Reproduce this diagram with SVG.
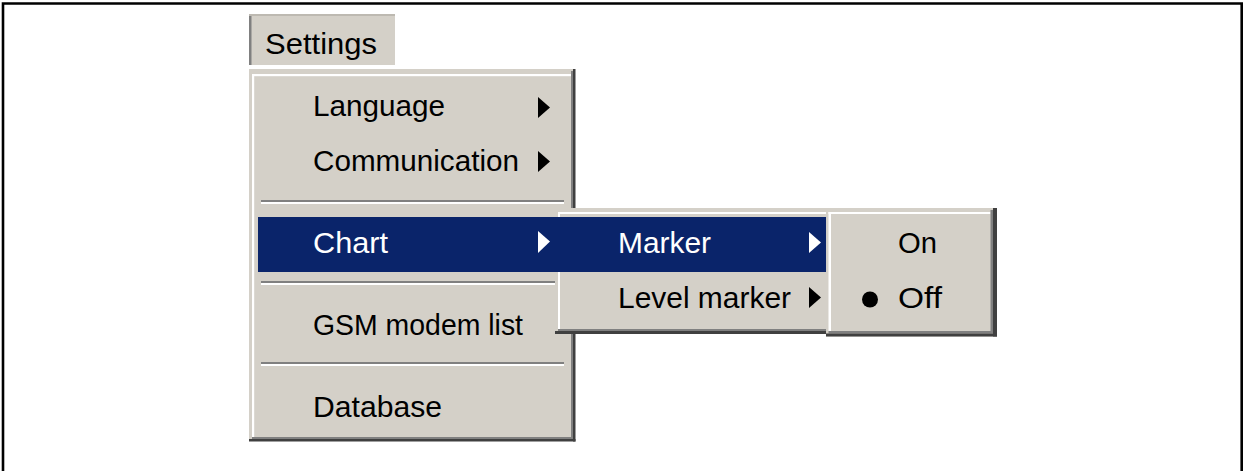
<svg xmlns="http://www.w3.org/2000/svg" width="1243" height="471" viewBox="0 0 1243 471">
<style>
.face{fill:#d4d0c8}
.hi{fill:#ffffff}
.sh{fill:#808080}
.dk{fill:#404040}
.sel{fill:#0a246a}
.t{font-family:"Liberation Sans",Tahoma,Arial,sans-serif;font-size:30px;fill:#000}
.tw{font-family:"Liberation Sans",Tahoma,Arial,sans-serif;font-size:30px;fill:#fff}
.arr{fill:#000}
.arrw{fill:#fff}
</style>
<rect x="0" y="0" width="1243" height="471" fill="#fff"/>
<path d="M3,472 V3.5 H1241.7 V472" fill="none" stroke="#000" stroke-width="2.6"/>

<g id="settings-button">
  <rect class="face" x="249" y="14" width="146" height="51"/>
  <rect x="249" y="14" width="146" height="2" fill="#bdb9b1"/>
  <rect class="sh" x="249" y="16" width="2.5" height="49"/>
  <text class="t" x="265" y="54" textLength="112" lengthAdjust="spacingAndGlyphs">Settings</text>
</g>

<g id="main-menu">
  <rect class="face" x="249" y="69" width="326" height="372"/>
  <rect class="hi" x="252" y="74" width="319" height="2.2"/>
  <rect class="hi" x="252" y="74" width="2.2" height="363"/>
  <rect class="sh" x="571" y="71" width="2" height="368"/>
  <rect class="sh" x="252" y="437" width="321" height="2"/>
  <rect class="dk" x="573" y="69" width="2.5" height="372.5"/>
  <rect class="dk" x="249" y="439" width="326.5" height="2.5"/>
</g>

<g id="item-language">
  <text class="t" x="313" y="116" textLength="132" lengthAdjust="spacingAndGlyphs">Language</text>
  <polygon class="arr" points="538,97 550,107.5 538,118"/>
</g>
<g id="item-communication">
  <text class="t" x="313" y="171" textLength="206" lengthAdjust="spacingAndGlyphs">Communication</text>
  <polygon class="arr" points="538,151 550,161.5 538,172"/>
</g>
<g id="separator-1">
  <rect class="sh" x="261" y="200" width="303" height="2"/>
  <rect class="hi" x="261" y="202" width="303" height="2"/>
</g>
<g id="item-chart">
  <rect class="sel" x="258" y="217" width="308" height="55"/>
  <text class="tw" x="313" y="253" textLength="75" lengthAdjust="spacingAndGlyphs">Chart</text>
  <polygon class="arrw" points="538,231 550,241.5 538,253"/>
</g>
<g id="separator-2">
  <rect class="sh" x="261" y="281" width="303" height="2"/>
  <rect class="hi" x="261" y="283" width="303" height="2"/>
</g>
<g id="item-gsm">
  <text class="t" x="313" y="335" textLength="210" lengthAdjust="spacingAndGlyphs">GSM modem list</text>
</g>
<g id="separator-3">
  <rect class="sh" x="261" y="362" width="303" height="2"/>
  <rect class="hi" x="261" y="364" width="303" height="2"/>
</g>
<g id="item-database">
  <text class="t" x="313" y="417" textLength="129" lengthAdjust="spacingAndGlyphs">Database</text>
</g>

<g id="chart-submenu">
  <rect class="face" x="555" y="208" width="275" height="126"/>
  <rect class="hi" x="558" y="212" width="272" height="2"/>
  <rect class="hi" x="558" y="212" width="2" height="119"/>
  <rect class="sh" x="558" y="329" width="272" height="2"/>
  <rect class="dk" x="555" y="331" width="275" height="3"/>
</g>
<g id="item-marker">
  <rect class="sel" x="555" y="217" width="272" height="55"/>
  <text class="tw" x="618" y="253" textLength="93" lengthAdjust="spacingAndGlyphs">Marker</text>
  <polygon class="arrw" points="809,232 821,242.5 809,253"/>
</g>
<g id="item-level-marker">
  <text class="t" x="618" y="308" textLength="173" lengthAdjust="spacingAndGlyphs">Level marker</text>
  <polygon class="arr" points="809,287 821,297.5 809,308"/>
</g>

<g id="marker-submenu">
  <rect class="face" x="826" y="208" width="171" height="128.5"/>
  <rect class="hi" x="828.5" y="212" width="162" height="2"/>
  <rect class="hi" x="828.5" y="212" width="2.5" height="119"/>
  <rect class="sh" x="990.5" y="210" width="2.5" height="123"/>
  <rect class="sh" x="828.5" y="331" width="164.5" height="2.5"/>
  <rect class="dk" x="993" y="208" width="4" height="128.5"/>
  <rect class="dk" x="826" y="333.5" width="171" height="3"/>
</g>
<g id="item-on">
  <text class="t" x="898" y="253" textLength="39" lengthAdjust="spacingAndGlyphs">On</text>
</g>
<g id="item-off">
  <circle cx="870" cy="299.5" r="8" fill="#000"/>
  <text class="t" x="898" y="308" textLength="44" lengthAdjust="spacingAndGlyphs">Off</text>
</g>
<g id="connectors"/>
</svg>
